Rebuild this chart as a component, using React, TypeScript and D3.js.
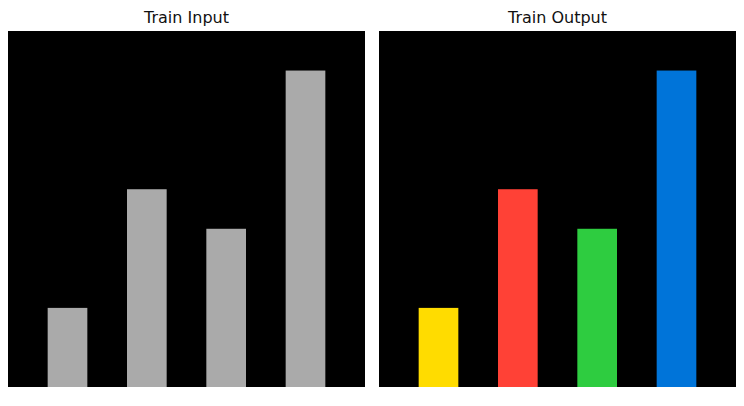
import React from "react";
import * as d3 from "d3";

// 9x9 grid, vertical bars standing on the bottom row
const gridSize = 9;
const barColumns = [1, 3, 5, 7];
const barHeights = [2, 5, 4, 8];
const inputColors = ["#AAAAAA", "#AAAAAA", "#AAAAAA", "#AAAAAA"];
const outputColors = ["#FFDC00", "#FF4136", "#2ECC40", "#0074D9"];
const panelTitles = ["Train Input", "Train Output"];

const W = 744, H = 406;
const panelW = 357, panelH = 356, top = 31;
const panelX = [8, 379];

function Panel({ x0, title, colors }: { x0: number; title: string; colors: string[] }) {
  const x = d3.scaleBand<number>().domain(d3.range(gridSize)).range([0, panelW]).paddingInner(0);
  const y = d3.scaleLinear().domain([0, gridSize]).range([panelH, 0]);
  return (
    <g transform={`translate(${x0},${top})`}>
      <text x={panelW / 2} y={-8} textAnchor="middle" fontSize={16} fontFamily="DejaVu Sans" fill="#111">
        {title}
      </text>
      <rect width={panelW} height={panelH} fill="#000" />
      {barColumns.map((c, i) => (
        <rect
          key={i}
          x={x(c)}
          y={y(barHeights[i])}
          width={x.bandwidth()}
          height={y(0) - y(barHeights[i])}
          fill={colors[i]}
        />
      ))}
    </g>
  );
}

export default function App() {
  return (
    <svg width={W} height={H} style={{ position: "absolute", left: 0, top: 0, background: "#fff" }}>
      <Panel x0={panelX[0]} title={panelTitles[0]} colors={inputColors} />
      <Panel x0={panelX[1]} title={panelTitles[1]} colors={outputColors} />
    </svg>
  );
}
